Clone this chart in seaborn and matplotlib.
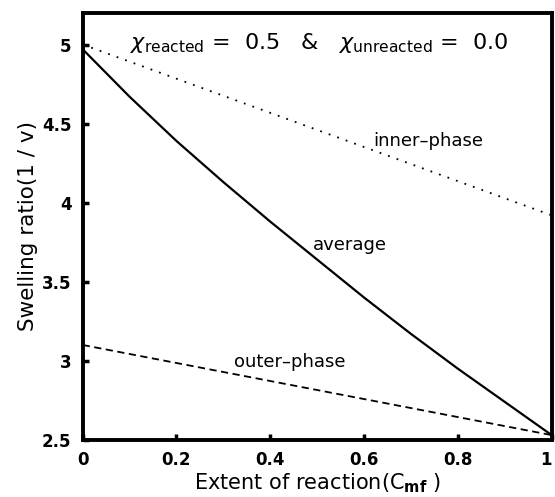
import matplotlib
matplotlib.use("Agg")
import matplotlib.pyplot as plt
import seaborn as sns
import pandas as pd

# Data
extent = [0.0, 0.1, 0.2, 0.3, 0.4, 0.5, 0.6, 0.7, 0.8, 0.9, 1.0]
average = [4.97, 4.67, 4.39, 4.13, 3.88, 3.64, 3.40, 3.17, 2.95, 2.74, 2.53]
inner_x = [0.0, 1.0]
inner_phase = [5.00, 3.92]
outer_x = [0.0, 1.0]
outer_phase = [3.10, 2.53]
xticks = [0, 0.2, 0.4, 0.6, 0.8, 1]
xticklabels = ["0", "0.2", "0.4", "0.6", "0.8", "1"]
yticks = [2.5, 3, 3.5, 4, 4.5, 5]
yticklabels = ["2.5", "3", "3.5", "4", "4.5", "5"]

sns.set_theme(style="white")
plt.rcParams["font.family"] = ["DejaVu Sans"]
plt.rcParams["text.color"] = "black"
plt.rcParams["axes.labelcolor"] = "black"

fig = plt.figure(figsize=(5.55, 4.97), dpi=100)
ax = fig.add_axes([0.149, 0.115, 0.845, 0.859])

df_avg = pd.DataFrame({"x": extent, "y": average})
df_in = pd.DataFrame({"x": inner_x, "y": inner_phase})
df_out = pd.DataFrame({"x": outer_x, "y": outer_phase})

sns.lineplot(data=df_avg, x="x", y="y", ax=ax, color="black", lw=1.6)
sns.lineplot(data=df_in, x="x", y="y", ax=ax, color="black", lw=1.3,
             linestyle=(0, (1, 4)))
sns.lineplot(data=df_out, x="x", y="y", ax=ax, color="black", lw=1.3,
             linestyle=(0, (4, 2.5)))

ax.set_xlim(0, 1)
ax.set_ylim(2.5, 5.2)
ax.set_xticks(xticks)
ax.set_xticklabels(xticklabels, fontsize=12, fontweight="bold")
ax.set_yticks(yticks)
ax.set_yticklabels(yticklabels, fontsize=12, fontweight="bold")
ax.tick_params(axis="both", direction="in", length=4, width=2.5,
               left=True, bottom=True, top=False, right=False, pad=8,
               colors="black")
ax.get_xticklabels()[-1].set_horizontalalignment("right")

for s in ax.spines.values():
    s.set_visible(True)
    s.set_color("black")
    s.set_linewidth(2.8)

ax.set_xlabel(r"Extent of reaction(C$_{\mathbf{mf}}$ )", fontsize=15, labelpad=2)
ax.set_ylabel("Swelling ratio(1 / v)", fontsize=15.5, labelpad=3)

ax.text(0.736, 4.39, "inner\u2013phase", fontsize=13, ha="center", va="center")
ax.text(0.57, 3.73, "average", fontsize=13, ha="center", va="center")
ax.text(0.442, 2.99, "outer\u2013phase", fontsize=13, ha="center", va="center")
ax.text(0.505, 5.01,
        r"$\chi_{\rm reacted}$ =  $\it{0.5}$   &   $\chi_{\rm unreacted}$ =  $\it{0.0}$",
        fontsize=16, ha="center", va="center")

fig.savefig("out.png", dpi=100)
